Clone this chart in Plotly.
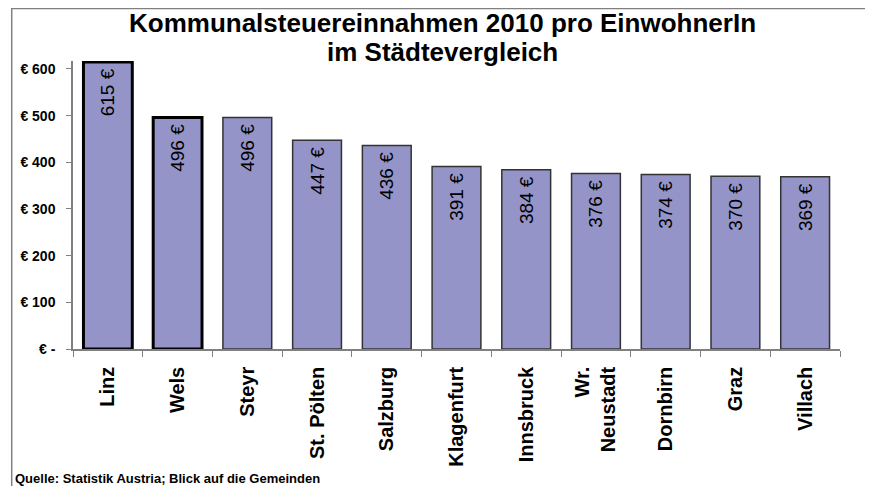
import plotly.graph_objects as go

cities = ["Linz", "Wels", "Steyr", "St. Pölten", "Salzburg", "Klagenfurt",
          "Innsbruck", "Wr.<br>Neustadt", "Dornbirn", "Graz", "Villach"]
values = [615, 496, 496, 447, 436, 391, 384, 376, 374, 370, 369]
y_ticks = [0, 100, 200, 300, 400, 500, 600]
y_ticktext = ["€ -", "€ 100", "€ 200", "€ 300", "€ 400", "€ 500", "€ 600"]

FONT = "Arial, Liberation Sans, sans-serif"

# Linz and Wels get a heavy outline
line_widths = [3 if c in ("Linz", "Wels") else 1.5 for c in cities]
line_colors = ["#000000" if c in ("Linz", "Wels") else "#333333" for c in cities]

fig = go.Figure()

# thin space at the end keeps the label a bit off the bar top
fig.add_trace(go.Bar(
    x=cities, y=values, width=0.7,
    marker=dict(color="#9494C8", line=dict(color=line_colors, width=line_widths)),
    text=[f"{v} €\u2009" for v in values], textposition="inside", insidetextanchor="end",
    textangle=-90, textfont=dict(family=FONT, size=19, color="black"),
    constraintext="none", showlegend=False))

fig.update_layout(
    width=873, height=486, plot_bgcolor="white", paper_bgcolor="white",
    margin=dict(l=62, r=41, t=53, b=145),
    xaxis=dict(tickangle=-90, tickson="boundaries", ticks="outside", ticklen=6,
               tickcolor="#808080", showline=True, linecolor="#808080", linewidth=1.5,
               ticklabelstandoff=8,
               tickfont=dict(family=FONT, size=20, color="black", weight="bold")),
    yaxis=dict(range=[0, 617], tickvals=y_ticks, ticktext=y_ticktext, ticks="outside",
               ticklen=5, tickcolor="#808080", showline=True, linecolor="#808080",
               linewidth=1.5, showgrid=False, zeroline=False, ticklabelstandoff=8,
               tickfont=dict(family=FONT, size=14, color="black", weight="bold")),
)

# title, one annotation per line
fig.add_annotation(text="<b>Kommunalsteuereinnahmen 2010 pro EinwohnerIn</b>",
                   xref="paper", yref="paper", x=0.482, y=1.132, xanchor="center", yanchor="middle",
                   showarrow=False, font=dict(family=FONT, size=26, color="black"))
fig.add_annotation(text="<b>im Städtevergleich</b>",
                   xref="paper", yref="paper", x=0.482, y=1.031, xanchor="center", yanchor="middle",
                   showarrow=False, font=dict(family=FONT, size=26, color="black"))

# outer frame (left and top edges)
fig.add_shape(type="rect", xref="paper", yref="paper", x0=-0.0799, x1=1.2, y0=-0.7, y1=1.182,
              line=dict(color="#808080", width=1.5))

fig.add_annotation(text="<b>Quelle: Statistik Austria; Blick auf die Gemeinden</b>",
                   xref="paper", yref="paper", x=-0.0785, y=-0.448, xanchor="left", yanchor="middle",
                   showarrow=False, font=dict(family=FONT, size=13, color="black"))

fig.write_html("out.html")
